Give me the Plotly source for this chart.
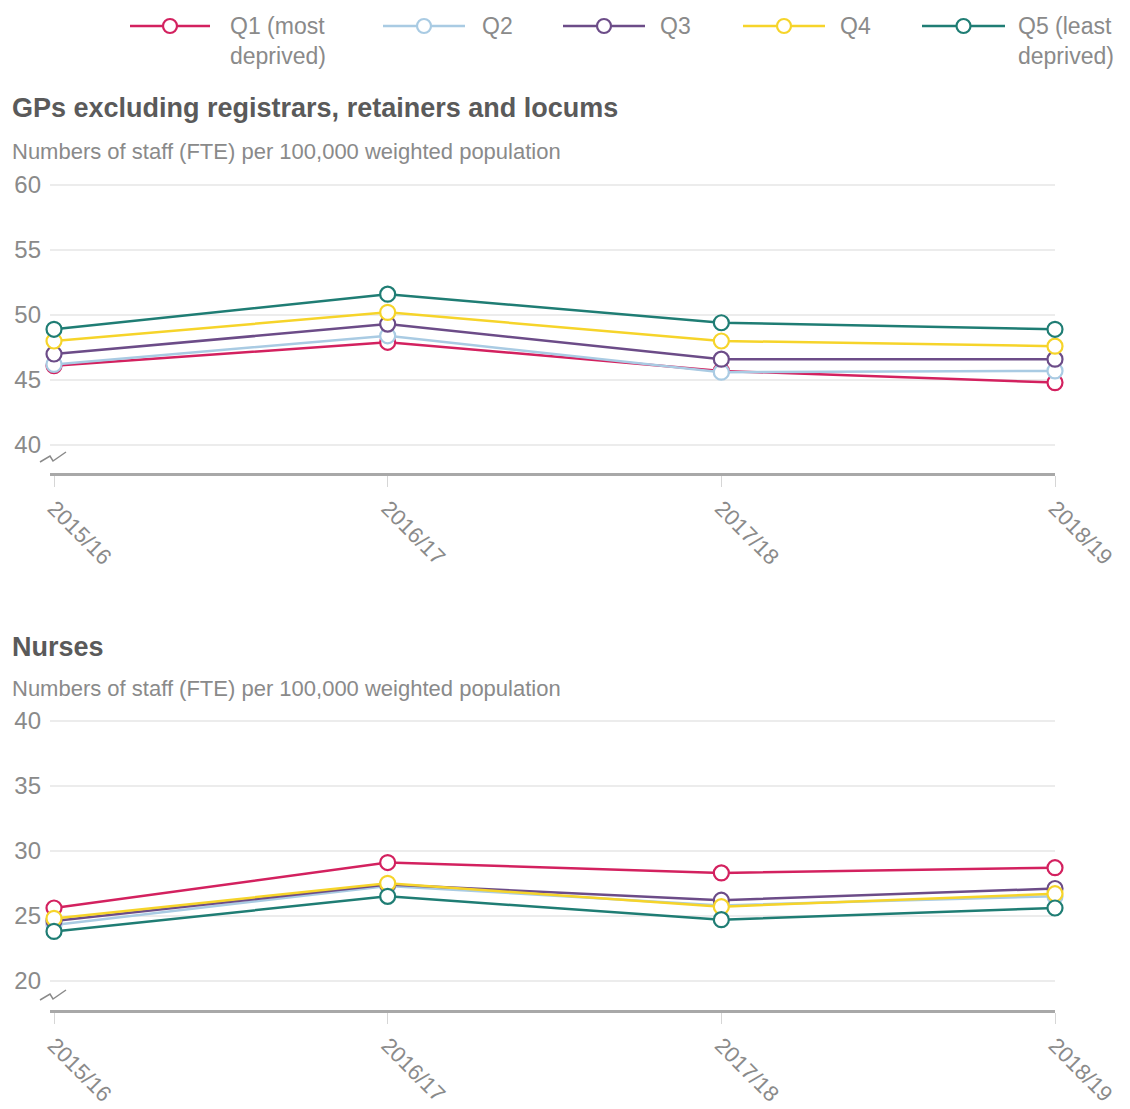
import plotly.graph_objects as go

W, H = 1130, 1109

years = ["2015/16", "2016/17", "2017/18", "2018/19"]
series_names = ["Q1 (most<br>deprived)", "Q2", "Q3", "Q4", "Q5 (least<br>deprived)"]
colors = ["#d3215f", "#a9cbe3", "#6c4c88", "#f6d42a", "#1f7d74"]

gp_q1 = [46.1, 47.9, 45.7, 44.8]
gp_q2 = [46.2, 48.4, 45.6, 45.7]
gp_q3 = [47.0, 49.3, 46.6, 46.6]
gp_q4 = [48.0, 50.2, 48.0, 47.6]
gp_q5 = [48.9, 51.6, 49.4, 48.9]

nurse_q1 = [25.6, 29.1, 28.3, 28.7]
nurse_q2 = [24.3, 27.3, 25.8, 26.5]
nurse_q3 = [24.6, 27.4, 26.2, 27.1]
nurse_q4 = [24.8, 27.5, 25.7, 26.7]
nurse_q5 = [23.8, 26.5, 24.7, 25.6]

panel_titles = ["GPs excluding registrars, retainers and locums", "Nurses"]
subtitle = "Numbers of staff (FTE) per 100,000 weighted population"
gp_ticks = [40, 45, 50, 55, 60]
nurse_ticks = [20, 25, 30, 35, 40]

gp_data = [gp_q1, gp_q2, gp_q3, gp_q4, gp_q5]
nurse_data = [nurse_q1, nurse_q2, nurse_q3, nurse_q4, nurse_q5]

FONT = "Liberation Sans, Arial, sans-serif"
GREY = "#8a8a8a"


def py(px):
    return 1 - px / H


def pxx(px):
    return px / W


fig = go.Figure()
xs = list(range(len(years)))
for axes, data in ((("x", "y"), gp_data), (("x2", "y2"), nurse_data)):
    for i, (name, col) in enumerate(zip(series_names, colors)):
        fig.add_trace(go.Scatter(
            x=xs, y=data[i], name=name, mode="lines+markers",
            line=dict(color=col, width=2.5),
            marker=dict(symbol="circle", size=15, color="white", line=dict(color=col, width=2.2)),
            showlegend=False, xaxis=axes[0], yaxis=axes[1], cliponaxis=False,
        ))

x_dom = [pxx(50), pxx(1055)]
xrange = [-0.012, 3]
tickfont = dict(family=FONT, size=22, color=GREY)

xaxis_common = dict(
    domain=x_dom, range=xrange, tickvals=xs, ticktext=years, tickangle=45,
    showgrid=False, zeroline=False, showline=True, linecolor="#a8a8a8", linewidth=2.5,
    ticks="outside", ticklen=11, tickcolor="#d6d6d6", tickwidth=1,
    tickfont=tickfont, automargin=False, fixedrange=True,
)
yaxis_common = dict(
    showgrid=True, gridcolor="#ececec", gridwidth=1.5, zeroline=False, showline=False,
    ticks="", tickfont=dict(family=FONT, size=24, color=GREY),
    ticklabelstandoff=8, automargin=False, fixedrange=True,
)

fig.update_layout(
    width=W, height=H,
    margin=dict(l=0, r=0, t=0, b=0),
    paper_bgcolor="white", plot_bgcolor="white",
    xaxis=dict(**xaxis_common, anchor="y"),
    yaxis=dict(**yaxis_common, domain=[py(473), py(181)], range=[37.85, 60.3], tickvals=gp_ticks, anchor="x"),
    xaxis2=dict(**xaxis_common, anchor="y2"),
    yaxis2=dict(**yaxis_common, domain=[py(1010), py(717)], range=[17.75, 40.3], tickvals=nurse_ticks, anchor="x2"),
    showlegend=False,
)

# Custom legend (long line with open circle)
legend_line_x = [(130, 210), (383, 465), (563, 645), (743, 825), (922, 1005)]
legend_text_x = [228, 480, 658, 838, 1016]
ly = 26
r = 7
for (x0, x1), tx, name, col in zip(legend_line_x, legend_text_x, series_names, colors):
    fig.add_shape(type="line", xref="paper", yref="paper",
                  x0=pxx(x0), x1=pxx(x1), y0=py(ly), y1=py(ly), line=dict(color=col, width=2.5))
    cx = (x0 + x1) / 2
    fig.add_shape(type="circle", xref="paper", yref="paper",
                  x0=pxx(cx - r), x1=pxx(cx + r), y0=py(ly + r), y1=py(ly - r),
                  fillcolor="white", line=dict(color=col, width=2.2))
    fig.add_annotation(text=name, x=pxx(tx), y=py(ly), xref="paper", yref="paper",
                       xanchor="left", yanchor="middle", align="left", showarrow=False,
                       yshift=-15 if "<br>" in name else 0,
                       font=dict(family=FONT, size=23, color=GREY))

# Panel titles and subtitles
for title, ty, sy in [(panel_titles[0], 108, 151), (panel_titles[1], 647, 688)]:
    fig.add_annotation(text=f"<b>{title}</b>", x=pxx(10), y=py(ty), xref="paper", yref="paper",
                       xanchor="left", yanchor="middle", showarrow=False,
                       font=dict(family=FONT, size=27, color="#5a5a5a"))
    fig.add_annotation(text=subtitle, x=pxx(10), y=py(sy), xref="paper", yref="paper",
                       xanchor="left", yanchor="middle", showarrow=False,
                       font=dict(family=FONT, size=22, color=GREY))

# Axis break zigzags
for base in (462, 1000):
    path = (f"M {pxx(40)},{py(base)} L {pxx(50)},{py(base-6)} L {pxx(53)},{py(base-1)} "
            f"L {pxx(66)},{py(base-10)}")
    fig.add_shape(type="path", path=path, xref="paper", yref="paper",
                  line=dict(color=GREY, width=1.5))

fig.write_html("out.html")
